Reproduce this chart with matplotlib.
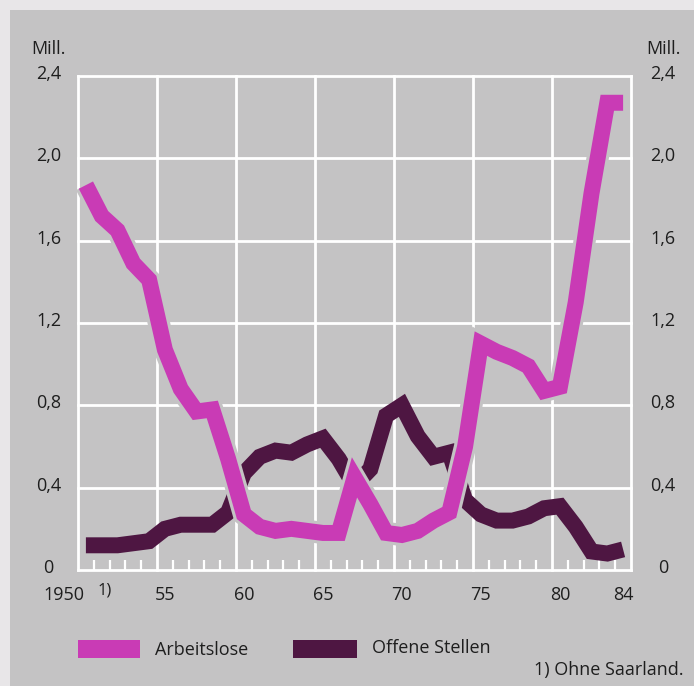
import matplotlib.pyplot as plt
import matplotlib.patheffects as pe
from matplotlib.ticker import MultipleLocator
from matplotlib.patches import Rectangle
import numpy as np

# Daten (Mill.), 1950 - 1984
years = list(range(1950, 1985))
arbeitslose = [1.87, 1.72, 1.65, 1.49, 1.41, 1.07, 0.88, 0.77, 0.78, 0.54,
               0.27, 0.21, 0.19, 0.20, 0.19, 0.18, 0.18, 0.45, 0.32, 0.18,
               0.17, 0.19, 0.24, 0.28, 0.60, 1.10, 1.06, 1.03, 0.99, 0.87,
               0.89, 1.30, 1.83, 2.27, 2.27]
offene_stellen = [0.12, 0.12, 0.12, 0.13, 0.14, 0.20, 0.22, 0.22, 0.22, 0.28,
                  0.47, 0.55, 0.58, 0.57, 0.61, 0.64, 0.54, 0.41, 0.49, 0.75,
                  0.80, 0.65, 0.55, 0.57, 0.34, 0.27, 0.24, 0.24, 0.26, 0.30,
                  0.31, 0.21, 0.09, 0.08, 0.10]
y_ticks = [0, 0.4, 0.8, 1.2, 1.6, 2.0, 2.4]
y_labels = ["0", "0,4", "0,8", "1,2", "1,6", "2,0", "2,4"]
x_label_years = [1955, 1960, 1965, 1970, 1975, 1980, 1984]
x_labels = ["55", "60", "65", "70", "75", "80", "84"]

PANEL = "#c4c3c4"
PAGE = "#e8e6e8"
MAGENTA = "#c93bb5"
DARK = "#4e1642"
TXT = "#1e1e1e"
FS = 13

plt.rcParams['font.family'] = ['Open Sans', 'DejaVu Sans']

fig = plt.figure(figsize=(6.94, 6.86), dpi=100)
fig.patch.set_facecolor(PAGE)
# grauer Hintergrund (Scan-Rand oben/links)
fig.add_artist(Rectangle((10 / 694, 0), 1, 1 - 10 / 686, transform=fig.transFigure,
                         facecolor=PANEL, edgecolor='none', zorder=-10))

W, H = 694, 686
ax = fig.add_axes([78 / W, (H - 570) / H, (631 - 78) / W, (570 - 76) / H])
ax.set_facecolor(PANEL)
for s in ax.spines.values():
    s.set_visible(False)

ax.set_xlim(1950, 1985)
ax.set_ylim(0, 2.4)
ax.xaxis.set_major_locator(MultipleLocator(5))
ax.xaxis.set_minor_locator(MultipleLocator(1))
ax.set_yticks(y_ticks)
ax.grid(True, color='white', linewidth=2.0)
ax.set_axisbelow(True)
for gl in ax.get_xgridlines() + ax.get_ygridlines():
    gl.set_clip_on(False)
ax.tick_params(which='major', length=0, labelbottom=False, labelleft=False)
ax.tick_params(which='minor', direction='in', length=7, width=1.6, color='white',
               bottom=True, top=False, left=False, right=False)

x = np.array(years) + 0.5
ax.plot(x, offene_stellen, color=DARK, linewidth=11.5, solid_joinstyle='miter',
        solid_capstyle='butt', zorder=3, clip_on=False)
ax.plot(x, arbeitslose, color=MAGENTA, linewidth=11.5, solid_joinstyle='miter',
        solid_capstyle='butt', zorder=4, clip_on=False,
        path_effects=[pe.Stroke(linewidth=16, foreground=PANEL), pe.Normal()])

# Achsenbeschriftung links und rechts
ytr = ax.get_yaxis_transform()
for v, lab in zip(y_ticks, y_labels):
    ax.text(-0.053, v + 0.01, lab, transform=ytr, ha='center', va='center',
            fontsize=FS, color=TXT)
    ax.text(1.058, v + 0.01, lab, transform=ytr, ha='center', va='center',
            fontsize=FS, color=TXT)
ax.text(-0.053, 2.53, "Mill.", transform=ytr, ha='center', va='center',
        fontsize=FS, color=TXT)
ax.text(1.058, 2.53, "Mill.", transform=ytr, ha='center', va='center',
        fontsize=FS, color=TXT)

# x-Beschriftung (Jahresmitte)
ax.text(1950.4, -0.122, "1950", ha='right', va='center', fontsize=FS, color=TXT,
        clip_on=False)
ax.text(1951.7, -0.098, "1)", ha='center', va='center', fontsize=12, color=TXT,
        clip_on=False)
for yr, lab in zip(x_label_years, x_labels):
    ax.text(yr + 0.5, -0.122, lab, ha='center', va='center', fontsize=FS,
            color=TXT, clip_on=False)

# Legende
fig.add_artist(Rectangle((78 / W, 1 - 658 / H), 62 / W, 18 / H,
                         transform=fig.transFigure, facecolor=MAGENTA,
                         edgecolor='none'))
fig.text(155 / W, 1 - 650 / H, "Arbeitslose", ha='left', va='center',
         fontsize=FS, color=TXT)
fig.add_artist(Rectangle((293 / W, 1 - 658 / H), 64 / W, 18 / H,
                         transform=fig.transFigure, facecolor=DARK,
                         edgecolor='none'))
fig.text(372 / W, 1 - 648 / H, "Offene Stellen", ha='left', va='center',
         fontsize=FS, color=TXT)
fig.text(684 / W, 1 - 670 / H, "1) Ohne Saarland.", ha='right', va='center',
         fontsize=FS, color=TXT)

fig.savefig("out.png", dpi=100, facecolor=fig.get_facecolor())
